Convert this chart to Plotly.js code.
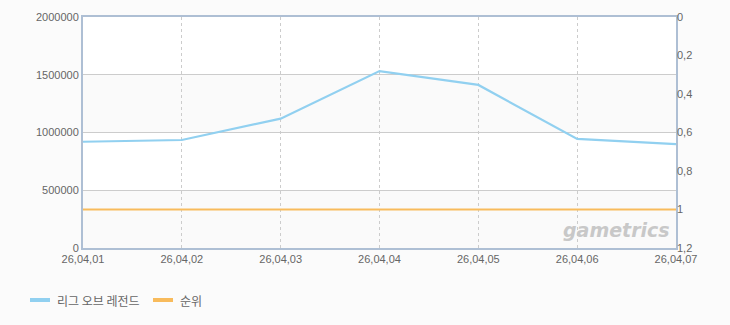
<!DOCTYPE html>
<html><head><meta charset="utf-8">
<script src="https://cdn.plot.ly/plotly-3.0.1.min.js"></script>
<style>html,body{margin:0;padding:0;background:#fbfbfb;}#c{width:730px;height:325px;}</style>
</head><body><div id="c"></div>
<script>
const categories = ['26,04,01','26,04,02','26,04,03','26,04,04','26,04,05','26,04,06','26,04,07'];
const seriesNames = ['리그 오브 레전드','순위'];
const seriesColors = ['#91d0f0', '#f8bb5c'];
const players = [920000, 935000, 1120000, 1532000, 1412000, 944000, 900000];
const rank = [1, 1, 1, 1, 1, 1, 1];
const bandEdges = [0, 500000, 1000000, 1500000, 2000000];

const shapes = [];
for (let i = 0; i < bandEdges.length - 1; i++) {
  shapes.push({type:'rect', xref:'paper', yref:'y', x0:0, x1:1, y0:bandEdges[i], y1:bandEdges[i+1],
    fillcolor: i % 2 === 0 ? '#fafafa' : '#ffffff', line:{width:0}, layer:'below'});
}
// custom legend (swatches + labels), positioned in pixel space of the figure
const W = 730, H = 325;
const legendX = [30, 153];
const legendY = 300;
const annotations = [];
seriesNames.forEach((name, i) => {
  shapes.push({type:'line', xref:'paper', yref:'paper',
    x0:(legendX[i]-83)/(W-83-54), x1:(legendX[i]+20-83)/(W-83-54),
    y0:(H-77-legendY)/(H-17-77), y1:(H-77-legendY)/(H-17-77),
    line:{color:seriesColors[i], width:4}});
  annotations.push({xref:'paper', yref:'paper', x:(legendX[i]+25-83)/(W-83-54), y:(H-77-legendY)/(H-17-77),
    xanchor:'left', yanchor:'middle', text:name, showarrow:false,
    font:{family:'"Noto Sans CJK KR", sans-serif', size:12, color:'#666'}});
});
annotations.push({xref:'paper', yref:'paper', x:0.993, y:0.02, xanchor:'right', yanchor:'bottom',
    text:'<b><i>gametrics</i></b>', showarrow:false,
    font:{family:'"DejaVu Sans", sans-serif', size:19, color:'#c8c8c8'}});

const font = {family:'"Liberation Sans", Arial, sans-serif', size:11, color:'#666'};

Plotly.newPlot('c', [
  {x:categories, y:players, name:seriesNames[0], type:'scatter', mode:'lines',
   line:{color:seriesColors[0], width:2.2}, yaxis:'y'},
  {x:categories, y:rank, name:seriesNames[1], type:'scatter', mode:'lines',
   line:{color:seriesColors[1], width:2.2}, yaxis:'y2'}
], {
  width:W, height:H,
  margin:{l:83, r:54, t:17, b:77},
  paper_bgcolor:'#fbfbfb', plot_bgcolor:'#ffffff',
  separators:',.',
  font:font,
  showlegend:false,
  xaxis:{type:'category', range:[0,6], showgrid:true, gridcolor:'#cccccc', griddash:'3px,3px', gridwidth:1,
    showline:true, linecolor:'#aebfd4', linewidth:2, mirror:true, ticks:'', tickfont:font, zeroline:false},
  yaxis:{range:[0,2000000], dtick:500000, tickformat:'d', showgrid:true, gridcolor:'#cccccc',
    showline:true, linecolor:'#aebfd4', linewidth:2, mirror:true, ticks:'', tickfont:font, zeroline:false},
  yaxis2:{overlaying:'y', side:'right', range:[1.2,0], dtick:0.2, showgrid:false, zeroline:false,
    showline:false, ticks:'', tickfont:font},
  shapes:shapes,
  annotations:annotations
}, {displayModeBar:false, staticPlot:true});
</script></body></html>
